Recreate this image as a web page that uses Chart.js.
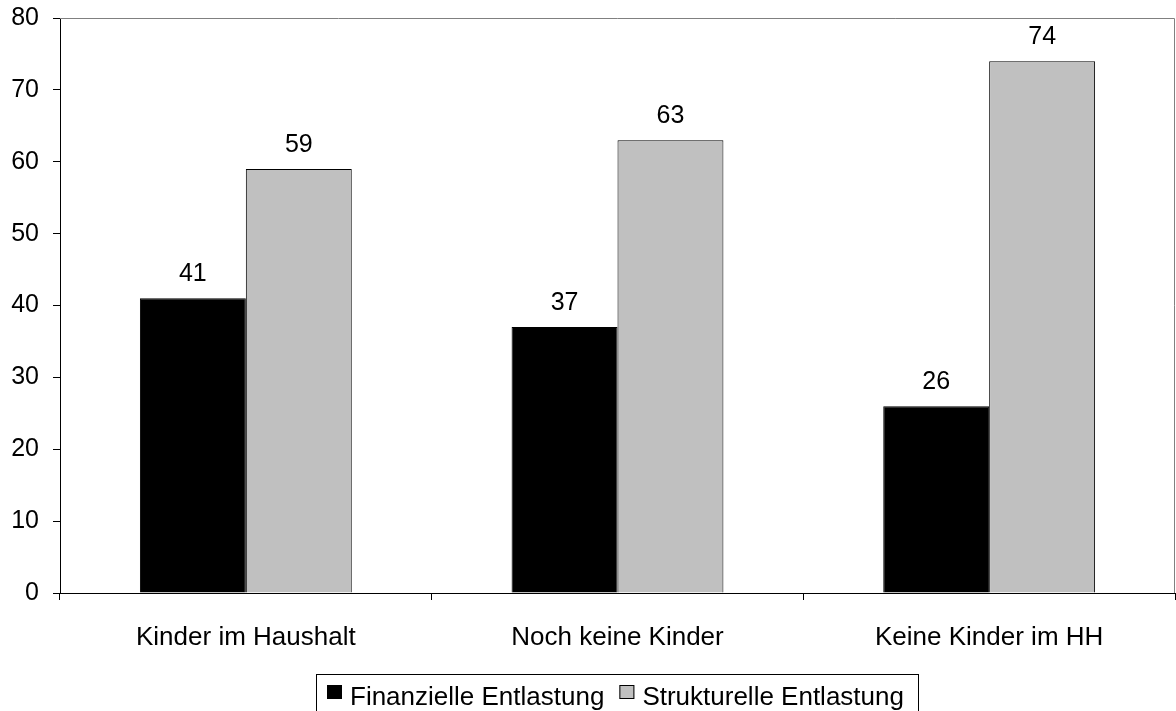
<!DOCTYPE html>
<html>
<head>
<meta charset="utf-8">
<script src="https://cdn.jsdelivr.net/npm/chart.js@4"></script>
<style>
  html, body { margin: 0; padding: 0; background: #fff; }
  canvas { display: block; }
</style>
</head>
<body>
<canvas id="chart" width="1176" height="711"></canvas>
<script>
// Chart data
const categories = ['Kinder im Haushalt', 'Noch keine Kinder', 'Keine Kinder im HH'];
const finanzielle = [41, 37, 26];
const strukturelle = [59, 63, 74];
const yTicks = [0, 10, 20, 30, 40, 50, 60, 70, 80];

const FONT = 'Arial, "Liberation Sans", sans-serif';

// Gray frame on top and right side of the plot area
const framePlugin = {
    id: 'frame',
    beforeDatasetsDraw(chart) {
        const a = chart.chartArea;
        const c = chart.ctx;
        c.save();
        c.strokeStyle = '#808080';
        c.lineWidth = 1;
        c.beginPath();
        c.moveTo(a.left, a.top + 0.5);
        c.lineTo(a.right - 0.5, a.top + 0.5);
        c.lineTo(a.right - 0.5, a.bottom);
        c.stroke();
        c.restore();
    }
};

// Value labels above each bar
const valuePlugin = {
    id: 'values',
    afterDatasetsDraw(chart) {
        const c = chart.ctx;
        c.save();
        c.font = '25px ' + FONT;
        c.fillStyle = '#000';
        c.textAlign = 'center';
        c.textBaseline = 'alphabetic';
        chart.data.datasets.forEach((ds, i) => {
            chart.getDatasetMeta(i).data.forEach((bar, j) => {
                c.fillText(ds.data[j], bar.x, bar.y - 17);
            });
        });
        c.restore();
    }
};

// Boxed legend at the bottom, like the original
const legendPlugin = {
    id: 'boxLegend',
    afterDraw(chart) {
        const c = chart.ctx;
        c.save();
        c.font = '26px ' + FONT;
        c.textBaseline = 'alphabetic';
        c.strokeStyle = '#000';
        c.lineWidth = 1;
        c.strokeRect(316.5, 674.5, 602, 60);
        let x = 327;
        chart.data.datasets.forEach(ds => {
            c.fillStyle = ds.backgroundColor;
            c.fillRect(x, 685, 15, 14);
            c.strokeRect(x + 0.5, 685.5, 14, 13);
            c.fillStyle = '#000';
            c.fillText(ds.label, x + 23, 705);
            x += 23 + c.measureText(ds.label).width + 15;
        });
        c.restore();
    }
};

new Chart(document.getElementById('chart'), {
    type: 'bar',
    data: {
        labels: categories,
        datasets: [
            {
                label: 'Finanzielle Entlastung',
                data: finanzielle,
                backgroundColor: '#000000',
                borderColor: '#000000',
                borderWidth: 1
            },
            {
                label: 'Strukturelle Entlastung',
                data: strukturelle,
                backgroundColor: '#C0C0C0',
                borderColor: '#000000',
                borderWidth: 1
            }
        ]
    },
    options: {
        responsive: false,
        animation: false,
        devicePixelRatio: 1,
        layout: { padding: { top: 18, right: 1, bottom: 0, left: 0 } },
        categoryPercentage: 0.57,
        barPercentage: 1.0,
        plugins: {
            legend: { display: false },
            tooltip: { enabled: false }
        },
        scales: {
            x: {
                grid: {
                    offset: true,
                    drawOnChartArea: false,
                    drawTicks: true,
                    tickLength: 7,
                    color: '#000'
                },
                border: { color: '#000', width: 1 },
                ticks: {
                    color: '#000',
                    font: { family: FONT, size: 26 },
                    padding: 22,
                    maxRotation: 0
                },
                afterFit(scale) {
                    scale.height = 118;
                    scale.paddingLeft = 0;
                    scale.paddingRight = 0;
                }
            },
            y: {
                min: 0,
                max: 80,
                afterBuildTicks(scale) {
                    scale.ticks = yTicks.map(v => ({ value: v }));
                },
                grid: {
                    drawOnChartArea: false,
                    drawTicks: true,
                    tickLength: 7,
                    color: '#000'
                },
                border: { color: '#000', width: 1 },
                ticks: {
                    color: '#000',
                    font: { family: FONT, size: 25 },
                    padding: 14
                },
                afterFit(scale) {
                    scale.width = 60;
                    scale.paddingTop = 0;
                    scale.paddingBottom = 0;
                }
            }
        }
    },
    plugins: [framePlugin, valuePlugin, legendPlugin]
});
</script>
</body>
</html>
